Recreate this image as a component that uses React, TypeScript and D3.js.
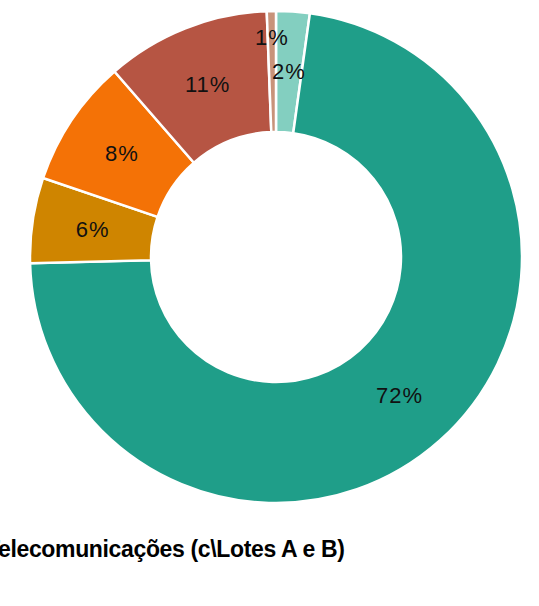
import React from "react";
import * as d3 from "d3";

const categories = ["Cat F", "Cat A", "Cat B", "Cat C", "Cat D", "Cat E"];
const values = [2.2, 72.4, 5.6, 8.4, 10.8, 0.6];
const labels = ["2%", "72%", "6%", "8%", "11%", "1%"];
const colors = ["#83cfc0", "#1f9e89", "#cf8500", "#f47206", "#b65543", "#c8937a"];
const title = "Telecomunicações (c\\Lotes A e B)";

const W = 539;
const H = 606;
const cx = 276;
const cy = 257;
const outerR = 246;
const innerR = 125;
// label radius overrides (best-fit placement for crowded small slices)
const labelRadius: Record<number, number> = { 5: 220 };

export default function App() {
  const pie = d3
    .pie<number>()
    .sort(null)
    .value((d) => d)
    .startAngle(0)
    .endAngle(2 * Math.PI);
  const arcs = pie(values);
  const arc = d3.arc<d3.PieArcDatum<number>>().innerRadius(innerR).outerRadius(outerR);
  const midR = (innerR + outerR) / 2;

  return (
    <svg
      width={W}
      height={H}
      style={{ position: "absolute", left: 0, top: 0, background: "#fff" }}
      fontFamily="'Liberation Sans', Arial, sans-serif"
    >
      <g transform={`translate(${cx},${cy})`}>
        {arcs.map((a, i) => (
          <path key={categories[i]} d={arc(a) || ""} fill={colors[i]} stroke="#fff" strokeWidth={2.5} />
        ))}
        {arcs.map((a, i) => {
          const r = labelRadius[i] ?? midR;
          const ang = (a.startAngle + a.endAngle) / 2;
          const x = r * Math.sin(ang);
          const y = -r * Math.cos(ang);
          return (
            <text
              key={"l" + i}
              x={x}
              y={y}
              textAnchor="middle"
              dominantBaseline="central"
              fontSize={22}
              letterSpacing={1}
              fill="#111"
            >
              {labels[i]}
            </text>
          );
        })}
      </g>
      <text x={-14} y={557} fontSize={23} fontWeight="bold" fill="#000" letterSpacing={-0.35}>
        {title}
      </text>
    </svg>
  );
}
